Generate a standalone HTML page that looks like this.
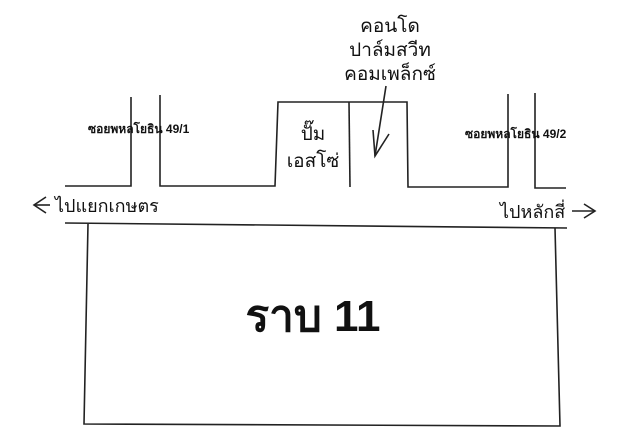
<!DOCTYPE html>
<html><head><meta charset="utf-8"><style>
html,body{margin:0;padding:0;background:#fff;}
svg{display:block}
text{font-family:"Liberation Sans","Noto Sans CJK SC","WenQuanYi Zen Hei",sans-serif;fill:#111}
</style></head><body>
<svg width="640" height="446" viewBox="0 0 640 446" xmlns="http://www.w3.org/2000/svg">
<g stroke="#222" stroke-width="1.6" fill="none">
<polyline points="65,186 131,186 131,97"/>
<polyline points="160,95 160,186 275,186 278,102 407,102 408,187 508,187 508,94"/>
<line x1="349" y1="102" x2="350" y2="187"/>
<polyline points="535,93 535,188 566,188"/>
<line x1="65" y1="223" x2="567" y2="228"/>
<polyline points="88,224 84,424 560,426 555,228"/>
<line x1="386" y1="86" x2="375" y2="156"/>
<polyline points="373,130 375,156 389,134"/>
<polyline points="46,197 34,205 46,213"/>
<line x1="34" y1="205" x2="50" y2="205"/>
<polyline points="584,204 595,211 584,218"/>
<line x1="572" y1="211" x2="595" y2="211"/>
</g>
<text x="390" y="32" font-size="19" text-anchor="middle">คอนโด</text>
<text x="390" y="56" font-size="19" text-anchor="middle">ปาล์มสวีท</text>
<text x="390" y="80" font-size="19" text-anchor="middle">คอมเพล็กซ์</text>
<text x="88" y="133" font-size="12" font-weight="bold">ซอยพหลโยธิน 49/1</text>
<text x="465" y="138" font-size="12" font-weight="bold">ซอยพหลโยธิน 49/2</text>
<text x="313" y="140" font-size="19" text-anchor="middle">ปั๊ม</text>
<text x="313" y="167" font-size="19" text-anchor="middle">เอสโซ่</text>
<text x="55" y="212" font-size="18">ไปแยกเกษตร</text>
<text x="500" y="218" font-size="18">ไปหลักสี่</text>
<text x="313" y="331" font-size="44" font-weight="bold" text-anchor="middle">ราบ 11</text>
</svg>
</body></html>
